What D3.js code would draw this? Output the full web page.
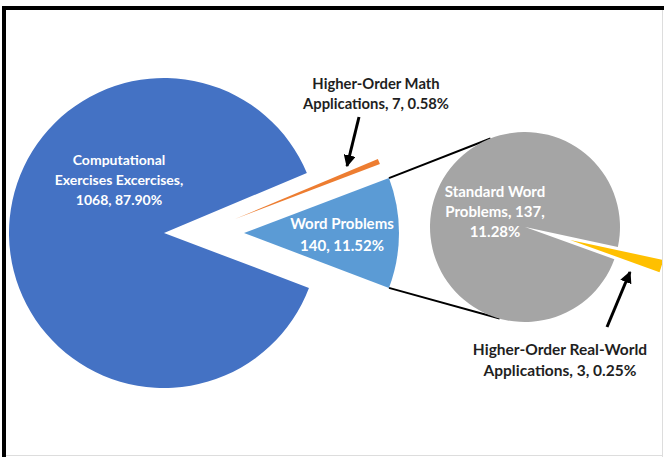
<!DOCTYPE html>
<html>
<head>
<meta charset="utf-8">
<script src="https://cdn.jsdelivr.net/npm/d3@7"></script>
<style>
  body { margin: 0; background: #fff; }
  text { font-family: Lato, "Open Sans", sans-serif; font-weight: bold; }
</style>
</head>
<body>
<svg id="chart"></svg>
<script>
// Main pie: order matters (orange sits just above the exploded "Word Problems" slice)
const mainNames = ["Higher-Order Math Applications", "Word Problems", "Computational Exercises Excercises"];
const mainCounts = [7, 140, 1068];
const mainColors = ["#ED7D31", "#5B9BD5", "#4472C4"];

// Secondary pie breaks "Word Problems" down
const subNames = ["Higher-Order Real-World Applications", "Standard Word Problems"];
const subCounts = [3, 137];
const subColors = ["#FFC000", "#A5A5A5"];

const width = 665, height = 457;
const svg = d3.select("#chart").attr("width", width).attr("height", height);

const total = d3.sum(mainCounts);
const pct = v => d3.format(".2%")(v / total);

// geometry of both pies
const mainC = [164, 233], mainR = 155;
const subC = [525, 227], subR = 95;
const mainExplode = [[71, -14], [80, 0], [0, 0]];
const subExplode = [47, 0]; // distance along mid angle

// clip to the framed area
svg.append("clipPath").attr("id", "area")
  .append("rect").attr("x", 6).attr("y", 10).attr("width", 656).attr("height", 445);

const g = svg.append("g").attr("clip-path", "url(#area)");

// word problems slice centred on the right-hand horizontal
const a0 = Math.PI / 2 - 2 * Math.PI * (mainCounts[0] + mainCounts[1] / 2) / total;
const mainPie = d3.pie().sort(null).startAngle(a0).endAngle(a0 + 2 * Math.PI);
const mainArcs = mainPie(mainCounts);
const arcMain = d3.arc().innerRadius(0).outerRadius(mainR);

const subTotal = d3.sum(subCounts);
const s0 = 106 * Math.PI / 180 - Math.PI * subCounts[0] / subTotal;
const subPie = d3.pie().sort(null).startAngle(s0).endAngle(s0 + 2 * Math.PI);
const subArcs = subPie(subCounts);
const arcSub = d3.arc().innerRadius(0).outerRadius(subR);

// connector lines: tangent from the outer corners of the word slice to the sub pie
const w = mainArcs[1];
const wApex = [mainC[0] + mainExplode[1][0], mainC[1] + mainExplode[1][1]];
function corner(a) { return [wApex[0] + mainR * Math.sin(a), wApex[1] - mainR * Math.cos(a)]; }
function tangent(p, pickTop) {
  const dx = p[0] - subC[0], dy = p[1] - subC[1];
  const d = Math.hypot(dx, dy);
  const phi = Math.atan2(dy, dx), alpha = Math.acos(subR / d);
  const cands = [phi + alpha, phi - alpha].map(t => [subC[0] + subR * Math.cos(t), subC[1] + subR * Math.sin(t)]);
  cands.sort((u, v) => u[1] - v[1]);
  return pickTop ? cands[0] : cands[1];
}
const topCorner = corner(w.startAngle), botCorner = corner(w.endAngle);
[[topCorner, tangent(topCorner, true)], [botCorner, tangent(botCorner, false)]].forEach(seg => {
  g.append("line")
    .attr("x1", seg[0][0]).attr("y1", seg[0][1])
    .attr("x2", seg[1][0]).attr("y2", seg[1][1])
    .attr("stroke", "#000").attr("stroke-width", 2);
});

// main pie slices
g.selectAll("path.main").data(mainArcs).join("path")
  .attr("class", "main")
  .attr("transform", (d, i) => `translate(${mainC[0] + mainExplode[i][0]},${mainC[1] + mainExplode[i][1]})`)
  .attr("d", arcMain)
  .attr("fill", (d, i) => mainColors[i]);

// secondary pie slices
g.selectAll("path.sub").data(subArcs).join("path")
  .attr("class", "sub")
  .attr("transform", (d, i) => {
    let ox = 0, oy = 0;
    if (i === 0) {
      const m = (d.startAngle + d.endAngle) / 2;
      ox = subExplode[0] * Math.sin(m); oy = -subExplode[0] * Math.cos(m);
    }
    return `translate(${subC[0] + ox},${subC[1] + oy})`;
  })
  .attr("d", arcSub)
  .attr("fill", (d, i) => subColors[i]);

// arrows for the two tiny slices
svg.append("defs").append("marker")
  .attr("id", "head").attr("markerUnits", "userSpaceOnUse")
  .attr("viewBox", "0 0 10 10").attr("refX", 9).attr("refY", 5)
  .attr("markerWidth", 12).attr("markerHeight", 12).attr("orient", "auto")
  .append("path").attr("d", "M0,0L10,5L0,10Z").attr("fill", "#000");

[[[359, 117], [347, 166]], [[607, 327], [630, 272]]].forEach(a => {
  g.append("line")
    .attr("x1", a[0][0]).attr("y1", a[0][1])
    .attr("x2", a[1][0]).attr("y2", a[1][1])
    .attr("stroke", "#000").attr("stroke-width", 3)
    .attr("marker-end", "url(#head)");
});

// data labels
const labels = [
  { lines: ["Computational", "Exercises Excercises,", `${mainCounts[2]},  ${pct(mainCounts[2])}`], x: 119, y: 159, lh: 20, fill: "#fff", size: 14 },
  { lines: ["Word Problems", `${mainCounts[1]}, ${pct(mainCounts[1])}`], x: 342, y: 223, lh: 22, fill: "#fff", size: 15 },
  { lines: ["Higher-Order Math", `Applications, ${mainCounts[0]}, ${pct(mainCounts[0])}`], x: 376, y: 83, lh: 20, fill: "#1f1f1f", size: 14.8 },
  { lines: ["Standard Word", `Problems, ${subCounts[1]},`, pct(subCounts[1])], x: 495, y: 191, lh: 20, fill: "#fff", size: 15 },
  { lines: ["Higher-Order Real-World", `Applications, ${subCounts[0]}, ${pct(subCounts[0])}`], x: 560, y: 349, lh: 21, fill: "#1f1f1f", size: 15.5 }
];

labels.forEach(l => {
  const t = g.append("text")
    .attr("text-anchor", "middle")
    .attr("font-size", l.size)
    .attr("fill", l.fill);
  l.lines.forEach((s, i) => {
    t.append("tspan").attr("x", l.x).attr("y", l.y + i * l.lh)
      .attr("dominant-baseline", "central").text(s);
  });
});

// frame: heavy black top/left, faint grey right/bottom
svg.append("line").attr("x1", 2).attr("y1", 8).attr("x2", 664).attr("y2", 8).attr("stroke", "#000").attr("stroke-width", 4);
svg.append("line").attr("x1", 4).attr("y1", 6).attr("x2", 4).attr("y2", 457).attr("stroke", "#000").attr("stroke-width", 4);
svg.append("line").attr("x1", 662.5).attr("y1", 10).attr("x2", 662.5).attr("y2", 457).attr("stroke", "#ddd").attr("stroke-width", 1);
svg.append("line").attr("x1", 6).attr("y1", 455.5).attr("x2", 663).attr("y2", 455.5).attr("stroke", "#ddd").attr("stroke-width", 1);
</script>
</body>
</html>
